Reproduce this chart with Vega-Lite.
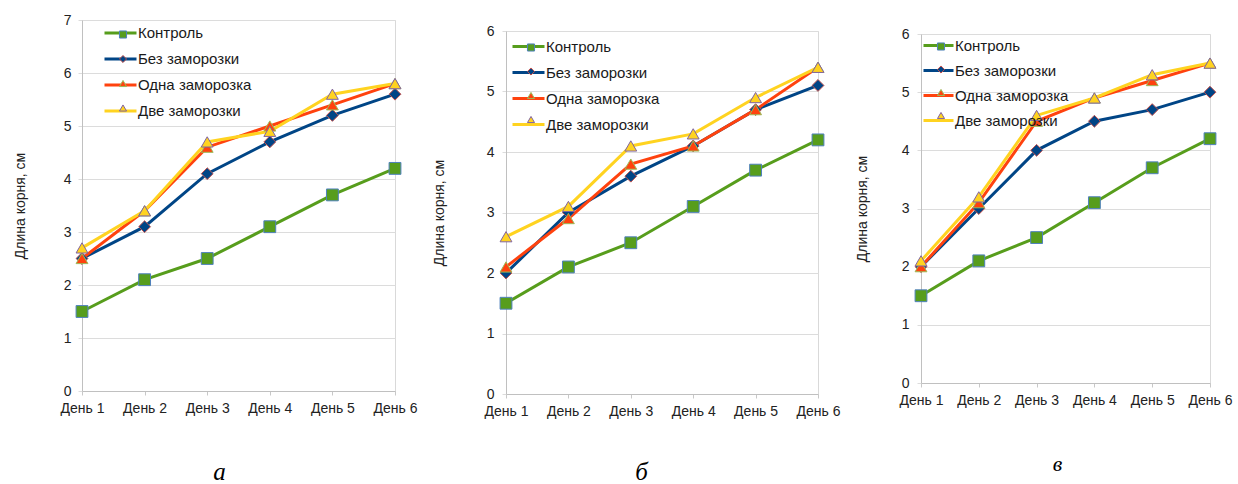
{
  "$schema": "https://vega.github.io/schema/vega-lite/v6.json",
  "padding": {"left": 12, "top": 12, "right": 0, "bottom": 0},
  "background": "white",
  "spacing": 13,
  "datasets": {
    "roots": [
      {"panel": "а", "series": "Контроль", "day": "День 1", "value": 1.5},
      {"panel": "а", "series": "Контроль", "day": "День 2", "value": 2.1},
      {"panel": "а", "series": "Контроль", "day": "День 3", "value": 2.5},
      {"panel": "а", "series": "Контроль", "day": "День 4", "value": 3.1},
      {"panel": "а", "series": "Контроль", "day": "День 5", "value": 3.7},
      {"panel": "а", "series": "Контроль", "day": "День 6", "value": 4.2},
      {"panel": "а", "series": "Без заморозки", "day": "День 1", "value": 2.5},
      {"panel": "а", "series": "Без заморозки", "day": "День 2", "value": 3.1},
      {"panel": "а", "series": "Без заморозки", "day": "День 3", "value": 4.1},
      {"panel": "а", "series": "Без заморозки", "day": "День 4", "value": 4.7},
      {"panel": "а", "series": "Без заморозки", "day": "День 5", "value": 5.2},
      {"panel": "а", "series": "Без заморозки", "day": "День 6", "value": 5.6},
      {"panel": "а", "series": "Одна заморозка", "day": "День 1", "value": 2.5},
      {"panel": "а", "series": "Одна заморозка", "day": "День 2", "value": 3.4},
      {"panel": "а", "series": "Одна заморозка", "day": "День 3", "value": 4.6},
      {"panel": "а", "series": "Одна заморозка", "day": "День 4", "value": 5.0},
      {"panel": "а", "series": "Одна заморозка", "day": "День 5", "value": 5.4},
      {"panel": "а", "series": "Одна заморозка", "day": "День 6", "value": 5.8},
      {"panel": "а", "series": "Две заморозки", "day": "День 1", "value": 2.7},
      {"panel": "а", "series": "Две заморозки", "day": "День 2", "value": 3.4},
      {"panel": "а", "series": "Две заморозки", "day": "День 3", "value": 4.7},
      {"panel": "а", "series": "Две заморозки", "day": "День 4", "value": 4.9},
      {"panel": "а", "series": "Две заморозки", "day": "День 5", "value": 5.6},
      {"panel": "а", "series": "Две заморозки", "day": "День 6", "value": 5.8},
      {"panel": "б", "series": "Контроль", "day": "День 1", "value": 1.5},
      {"panel": "б", "series": "Контроль", "day": "День 2", "value": 2.1},
      {"panel": "б", "series": "Контроль", "day": "День 3", "value": 2.5},
      {"panel": "б", "series": "Контроль", "day": "День 4", "value": 3.1},
      {"panel": "б", "series": "Контроль", "day": "День 5", "value": 3.7},
      {"panel": "б", "series": "Контроль", "day": "День 6", "value": 4.2},
      {"panel": "б", "series": "Без заморозки", "day": "День 1", "value": 2.0},
      {"panel": "б", "series": "Без заморозки", "day": "День 2", "value": 3.0},
      {"panel": "б", "series": "Без заморозки", "day": "День 3", "value": 3.6},
      {"panel": "б", "series": "Без заморозки", "day": "День 4", "value": 4.1},
      {"panel": "б", "series": "Без заморозки", "day": "День 5", "value": 4.7},
      {"panel": "б", "series": "Без заморозки", "day": "День 6", "value": 5.1},
      {"panel": "б", "series": "Одна заморозка", "day": "День 1", "value": 2.1},
      {"panel": "б", "series": "Одна заморозка", "day": "День 2", "value": 2.9},
      {"panel": "б", "series": "Одна заморозка", "day": "День 3", "value": 3.8},
      {"panel": "б", "series": "Одна заморозка", "day": "День 4", "value": 4.1},
      {"panel": "б", "series": "Одна заморозка", "day": "День 5", "value": 4.7},
      {"panel": "б", "series": "Одна заморозка", "day": "День 6", "value": 5.4},
      {"panel": "б", "series": "Две заморозки", "day": "День 1", "value": 2.6},
      {"panel": "б", "series": "Две заморозки", "day": "День 2", "value": 3.1},
      {"panel": "б", "series": "Две заморозки", "day": "День 3", "value": 4.1},
      {"panel": "б", "series": "Две заморозки", "day": "День 4", "value": 4.3},
      {"panel": "б", "series": "Две заморозки", "day": "День 5", "value": 4.9},
      {"panel": "б", "series": "Две заморозки", "day": "День 6", "value": 5.4},
      {"panel": "в", "series": "Контроль", "day": "День 1", "value": 1.5},
      {"panel": "в", "series": "Контроль", "day": "День 2", "value": 2.1},
      {"panel": "в", "series": "Контроль", "day": "День 3", "value": 2.5},
      {"panel": "в", "series": "Контроль", "day": "День 4", "value": 3.1},
      {"panel": "в", "series": "Контроль", "day": "День 5", "value": 3.7},
      {"panel": "в", "series": "Контроль", "day": "День 6", "value": 4.2},
      {"panel": "в", "series": "Без заморозки", "day": "День 1", "value": 2.0},
      {"panel": "в", "series": "Без заморозки", "day": "День 2", "value": 3.0},
      {"panel": "в", "series": "Без заморозки", "day": "День 3", "value": 4.0},
      {"panel": "в", "series": "Без заморозки", "day": "День 4", "value": 4.5},
      {"panel": "в", "series": "Без заморозки", "day": "День 5", "value": 4.7},
      {"panel": "в", "series": "Без заморозки", "day": "День 6", "value": 5.0},
      {"panel": "в", "series": "Одна заморозка", "day": "День 1", "value": 2.0},
      {"panel": "в", "series": "Одна заморозка", "day": "День 2", "value": 3.1},
      {"panel": "в", "series": "Одна заморозка", "day": "День 3", "value": 4.5},
      {"panel": "в", "series": "Одна заморозка", "day": "День 4", "value": 4.9},
      {"panel": "в", "series": "Одна заморозка", "day": "День 5", "value": 5.2},
      {"panel": "в", "series": "Одна заморозка", "day": "День 6", "value": 5.5},
      {"panel": "в", "series": "Две заморозки", "day": "День 1", "value": 2.1},
      {"panel": "в", "series": "Две заморозки", "day": "День 2", "value": 3.2},
      {"panel": "в", "series": "Две заморозки", "day": "День 3", "value": 4.6},
      {"panel": "в", "series": "Две заморозки", "day": "День 4", "value": 4.9},
      {"panel": "в", "series": "Две заморозки", "day": "День 5", "value": 5.3},
      {"panel": "в", "series": "Две заморозки", "day": "День 6", "value": 5.5}
    ]
  },
  "data": {"name": "roots"},
  "resolve": {
    "scale": {"color": "independent", "fill": "independent", "stroke": "independent", "shape": "independent"},
    "legend": {"color": "independent", "fill": "independent", "stroke": "independent", "shape": "independent"}
  },
  "hconcat": [
    {
      "width": 313,
      "height": 371,
      "transform": [{"filter": "datum.panel === 'а'"}],
      "encoding": {
        "x": {"field": "day", "type": "ordinal", "sort": null, "scale": {"type": "point", "padding": 0},
          "axis": {"title": "а", "titleFont": "Liberation Serif", "titleFontStyle": "italic", "titleFontWeight": "normal", "titleFontSize": 25, "titleColor": "#000", "titleX": 137, "titleAlign": "center", "titleBaseline": "alphabetic", "titlePadding": 64, "labelAngle": 0, "labelPadding": 6, "grid": false}},
        "y": {"field": "value", "type": "quantitative", "scale": {"domain": [0, 7], "nice": false},
          "axis": {"values": [0, 1, 2, 3, 4, 5, 6, 7], "title": "Длина корня, см", "titlePadding": 36, "labelPadding": 7, "tickColor": "#dcdcdc"}}
      },
      "layer": [
        {"mark": {"type": "line", "strokeWidth": 3},
          "encoding": {"color": {"field": "series", "type": "nominal", "sort": ["Контроль", "Без заморозки", "Одна заморозка", "Две заморозки"],
            "scale": {"range": ["#579d1c", "#004586", "#ff420e", "#ffd320"]},
            "legend": {"orient": "none", "legendX": 21, "legendY": -4.5, "title": null, "symbolType": "stroke", "symbolSize": 1024, "symbolStrokeWidth": 3, "rowPadding": -6.5, "labelOffset": 0, "padding": 0}}}},
        {"mark": {"type": "point", "filled": true, "size": 140, "strokeWidth": 1, "opacity": 1},
          "encoding": {
            "fill": {"field": "series", "type": "nominal", "scale": {"domain": ["Контроль", "Без заморозки", "Одна заморозка", "Две заморозки"], "range": ["#579d1c", "#004586", "#ff420e", "#ffd320"]},
              "legend": {"orient": "none", "legendX": 21, "legendY": 7, "title": null, "symbolSize": 50, "symbolOffset": 12.5, "symbolStrokeWidth": 1, "rowPadding": 8.5, "labelExpr": "''", "padding": 0}},
            "stroke": {"field": "series", "type": "nominal", "scale": {"domain": ["Контроль", "Без заморозки", "Одна заморозка", "Две заморозки"], "range": ["#4f81bd", "#c0504d", "#9bbb59", "#8064a2"]},
              "legend": {"orient": "none", "legendX": 21, "legendY": 7, "title": null, "symbolSize": 50, "symbolOffset": 12.5, "symbolStrokeWidth": 1, "rowPadding": 8.5, "labelExpr": "''", "padding": 0}},
            "shape": {"field": "series", "type": "nominal", "scale": {"domain": ["Контроль", "Без заморозки", "Одна заморозка", "Две заморозки"], "range": ["square", "diamond", "triangle-up", "triangle-up"]},
              "legend": {"orient": "none", "legendX": 21, "legendY": 7, "title": null, "symbolSize": 50, "symbolOffset": 12.5, "symbolStrokeWidth": 1, "rowPadding": 8.5, "labelExpr": "''", "padding": 0}}
          }}
      ]
    },
    {
      "spacing": 0,
      "resolve": {
        "scale": {"color": "independent", "fill": "independent", "stroke": "independent", "shape": "independent"},
        "legend": {"color": "independent", "fill": "independent", "stroke": "independent", "shape": "independent"}
      },
      "vconcat": [
        {"width": 312, "height": 3, "data": {"values": []}, "mark": {"type": "point"}, "view": {"stroke": null}},
        {
          "width": 312,
          "height": 363,
          "transform": [{"filter": "datum.panel === 'б'"}],
          "encoding": {
            "x": {"field": "day", "type": "ordinal", "sort": null, "scale": {"type": "point", "padding": 0},
              "axis": {"title": "б", "titleFont": "Liberation Serif", "titleFontStyle": "italic", "titleFontWeight": "normal", "titleFontSize": 25, "titleColor": "#000", "titleX": 135, "titleAlign": "center", "titleBaseline": "alphabetic", "titlePadding": 61, "labelAngle": 0, "labelPadding": 6, "grid": false}},
            "y": {"field": "value", "type": "quantitative", "scale": {"domain": [0, 6], "nice": false},
              "axis": {"values": [0, 1, 2, 3, 4, 5, 6], "title": "Длина корня, см", "titlePadding": 40, "labelPadding": 8, "tickColor": "#dcdcdc"}}
          },
          "layer": [
            {"mark": {"type": "line", "strokeWidth": 3},
              "encoding": {"color": {"field": "series", "type": "nominal", "sort": ["Контроль", "Без заморозки", "Одна заморозка", "Две заморозки"],
                "scale": {"range": ["#579d1c", "#004586", "#ff420e", "#ffd320"]},
                "legend": {"orient": "none", "legendX": 5, "legendY": -2, "title": null, "symbolType": "stroke", "symbolSize": 1024, "symbolStrokeWidth": 3, "rowPadding": -7, "labelOffset": 0, "padding": 0}}}},
            {"mark": {"type": "point", "filled": true, "size": 140, "strokeWidth": 1, "opacity": 1},
              "encoding": {
                "fill": {"field": "series", "type": "nominal", "scale": {"domain": ["Контроль", "Без заморозки", "Одна заморозка", "Две заморозки"], "range": ["#579d1c", "#004586", "#ff420e", "#ffd320"]},
                  "legend": {"orient": "none", "legendX": 5, "legendY": 9, "title": null, "symbolSize": 50, "symbolOffset": 12.5, "symbolStrokeWidth": 1, "rowPadding": 8, "labelExpr": "''", "padding": 0}},
                "stroke": {"field": "series", "type": "nominal", "scale": {"domain": ["Контроль", "Без заморозки", "Одна заморозка", "Две заморозки"], "range": ["#4f81bd", "#c0504d", "#9bbb59", "#8064a2"]},
                  "legend": {"orient": "none", "legendX": 5, "legendY": 9, "title": null, "symbolSize": 50, "symbolOffset": 12.5, "symbolStrokeWidth": 1, "rowPadding": 8, "labelExpr": "''", "padding": 0}},
                "shape": {"field": "series", "type": "nominal", "scale": {"domain": ["Контроль", "Без заморозки", "Одна заморозка", "Две заморозки"], "range": ["square", "diamond", "triangle-up", "triangle-up"]},
                  "legend": {"orient": "none", "legendX": 5, "legendY": 9, "title": null, "symbolSize": 50, "symbolOffset": 12.5, "symbolStrokeWidth": 1, "rowPadding": 8, "labelExpr": "''", "padding": 0}}
              }}
          ]
        }
      ]
    },
    {
      "spacing": 0,
      "resolve": {
        "scale": {"color": "independent", "fill": "independent", "stroke": "independent", "shape": "independent"},
        "legend": {"color": "independent", "fill": "independent", "stroke": "independent", "shape": "independent"}
      },
      "vconcat": [
        {"width": 289, "height": 5.5, "data": {"values": []}, "mark": {"type": "point"}, "view": {"stroke": null}},
        {
          "width": 289,
          "height": 349,
          "transform": [{"filter": "datum.panel === 'в'"}],
          "encoding": {
            "x": {"field": "day", "type": "ordinal", "sort": null, "scale": {"type": "point", "padding": 0},
              "axis": {"title": "в", "titleFont": "Liberation Serif", "titleFontStyle": "italic", "titleFontWeight": "normal", "titleFontSize": 22, "titleColor": "#000", "titleX": 136, "titleAlign": "center", "titleBaseline": "alphabetic", "titlePadding": 63, "labelAngle": 0, "labelPadding": 6, "grid": false}},
            "y": {"field": "value", "type": "quantitative", "scale": {"domain": [0, 6], "nice": false},
              "axis": {"values": [0, 1, 2, 3, 4, 5, 6], "title": "Длина корня, см", "titlePadding": 32, "labelPadding": 8, "tickColor": "#dcdcdc"}}
          },
          "layer": [
            {"mark": {"type": "line", "strokeWidth": 3},
              "encoding": {"color": {"field": "series", "type": "nominal", "sort": ["Контроль", "Без заморозки", "Одна заморозка", "Две заморозки"],
                "scale": {"range": ["#579d1c", "#004586", "#ff420e", "#ffd320"]},
                "legend": {"orient": "none", "legendX": 1, "legendY": -5, "title": null, "symbolType": "stroke", "symbolSize": 900, "symbolStrokeWidth": 3, "rowPadding": -6, "labelOffset": 0, "padding": 0}}}},
            {"mark": {"type": "point", "filled": true, "size": 140, "strokeWidth": 1, "opacity": 1},
              "encoding": {
                "fill": {"field": "series", "type": "nominal", "scale": {"domain": ["Контроль", "Без заморозки", "Одна заморозка", "Две заморозки"], "range": ["#579d1c", "#004586", "#ff420e", "#ffd320"]},
                  "legend": {"orient": "none", "legendX": 1, "legendY": 5, "title": null, "symbolSize": 50, "symbolOffset": 11.5, "symbolStrokeWidth": 1, "rowPadding": 7, "labelExpr": "''", "padding": 0}},
                "stroke": {"field": "series", "type": "nominal", "scale": {"domain": ["Контроль", "Без заморозки", "Одна заморозка", "Две заморозки"], "range": ["#4f81bd", "#c0504d", "#9bbb59", "#8064a2"]},
                  "legend": {"orient": "none", "legendX": 1, "legendY": 5, "title": null, "symbolSize": 50, "symbolOffset": 11.5, "symbolStrokeWidth": 1, "rowPadding": 7, "labelExpr": "''", "padding": 0}},
                "shape": {"field": "series", "type": "nominal", "scale": {"domain": ["Контроль", "Без заморозки", "Одна заморозка", "Две заморозки"], "range": ["square", "diamond", "triangle-up", "triangle-up"]},
                  "legend": {"orient": "none", "legendX": 1, "legendY": 5, "title": null, "symbolSize": 50, "symbolOffset": 11.5, "symbolStrokeWidth": 1, "rowPadding": 7, "labelExpr": "''", "padding": 0}}
              }}
          ]
        }
      ]
    }
  ],
  "config": {
    "view": {"stroke": "#d9d9d9"},
    "font": "Liberation Sans",
    "axis": {"labelFont": "Liberation Sans", "labelFontSize": 14, "labelColor": "#222", "titleFont": "Liberation Sans", "titleFontSize": 14, "titleFontWeight": "normal", "titleColor": "#222", "gridColor": "#dcdcdc", "domainColor": "#c0c0c0", "tickColor": "#c8c8c8", "tickSize": 4},
    "legend": {"labelFont": "Liberation Sans", "labelFontSize": 15, "labelColor": "#1a1a1a", "labelLimit": 300}
  }
}
